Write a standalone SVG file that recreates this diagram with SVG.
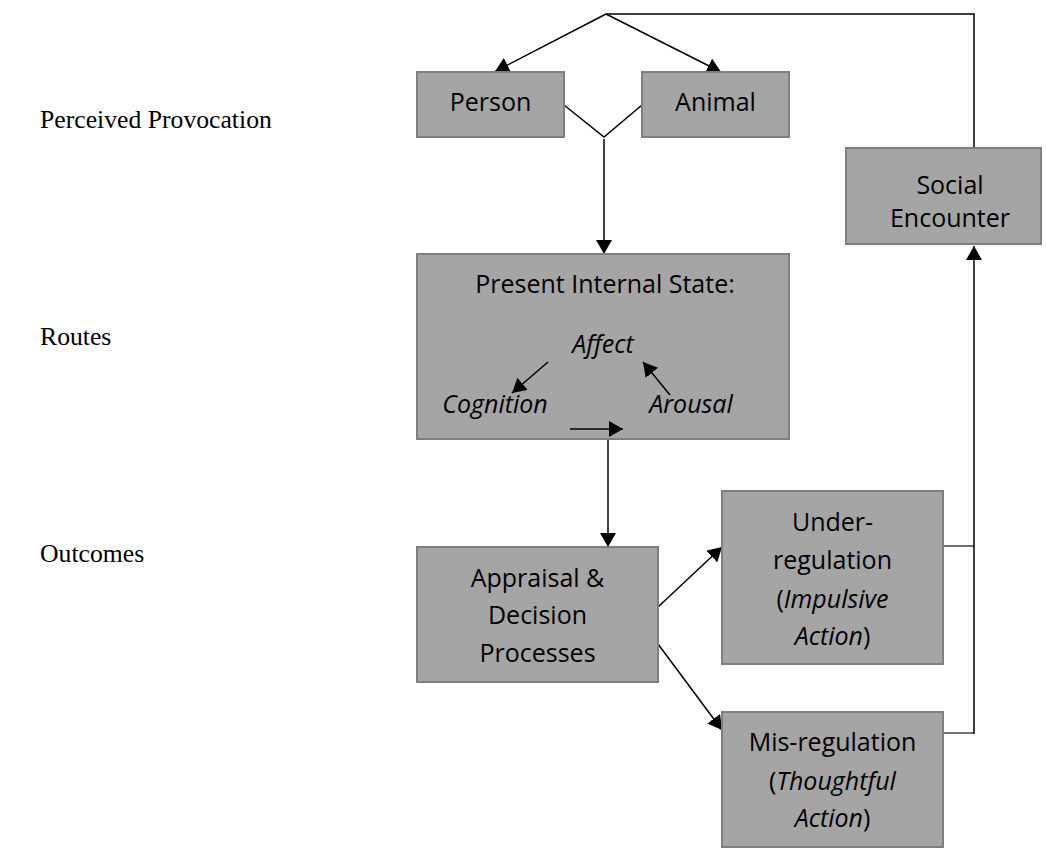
<svg xmlns="http://www.w3.org/2000/svg" width="1046" height="848" viewBox="0 0 1046 848">
<style>
.box{fill:#a5a5a5;stroke:#7f7f7f;stroke-width:2}
.t{font-family:"Open Sans","Noto Sans",sans-serif;font-size:25px;fill:#000;text-anchor:middle}
.i{font-style:italic}
.lbl{font-family:"Liberation Serif","Times New Roman",serif;font-size:25.7px;fill:#000}
.c{fill:none;stroke:#000;stroke-width:1.5}
.cg{fill:none;stroke:#404040;stroke-width:1.5}
</style>
<defs>
<marker id="ah" viewBox="0 0 14 16" refX="14" refY="8" markerWidth="14" markerHeight="16" markerUnits="userSpaceOnUse" orient="auto">
<path d="M0,0 L14,8 L0,16 z" fill="#000"/>
</marker>
</defs>
<g id="labels">
<text class="lbl" x="40" y="128">Perceived Provocation</text>
<text class="lbl" x="40" y="345">Routes</text>
<text class="lbl" x="40" y="562">Outcomes</text>
</g>
<g id="connectors">
<line class="c" x1="606" y1="14" x2="495" y2="71.5" marker-end="url(#ah)"/>
<line class="c" x1="606" y1="14" x2="721" y2="72" marker-end="url(#ah)"/>
<polyline class="c" points="564,105 604,137 642,105"/>
<line class="c" x1="604" y1="139" x2="604" y2="254" marker-end="url(#ah)"/>
<polyline class="c" points="974,148 974,14 606,14"/>
<line class="c" x1="608" y1="439" x2="608" y2="547" marker-end="url(#ah)"/>
<line class="c" x1="658" y1="607" x2="722" y2="547" marker-end="url(#ah)"/>
<line class="c" x1="658" y1="644" x2="722" y2="730" marker-end="url(#ah)"/>
<line class="cg" x1="943" y1="546" x2="974" y2="546"/>
<line class="cg" x1="943" y1="733" x2="974" y2="733"/>
<line class="c" x1="974" y1="734" x2="974" y2="246" marker-end="url(#ah)"/>
</g>
<g id="person">
<rect class="box" x="417" y="72" width="147" height="65"/>
<text class="t" x="490.5" y="111">Person</text>
</g>
<g id="animal">
<rect class="box" x="642" y="72" width="147" height="65"/>
<text class="t" x="715.5" y="111">Animal</text>
</g>
<g id="social-encounter">
<rect class="box" x="846" y="148" width="195" height="96"/>
<text class="t" x="950" y="194">Social</text>
<text class="t" x="950" y="227">Encounter</text>
</g>
<g id="present-internal-state">
<rect class="box" x="417" y="254" width="372" height="185"/>
<text class="t" x="605" y="293">Present Internal State:</text>
<text class="t i" x="603" y="353">Affect</text>
<text class="t i" x="495" y="413">Cognition</text>
<text class="t i" x="691" y="413">Arousal</text>
<line class="c" x1="548" y1="362" x2="512" y2="393" marker-end="url(#ah)"/>
<line class="c" x1="670" y1="395" x2="643" y2="362" marker-end="url(#ah)"/>
<line class="c" x1="570" y1="429" x2="623" y2="429" marker-end="url(#ah)"/>
</g>
<g id="appraisal">
<rect class="box" x="417" y="547" width="241" height="135"/>
<text class="t" x="537.5" y="587">Appraisal &amp;</text>
<text class="t" x="537.5" y="624">Decision</text>
<text class="t" x="537.5" y="662">Processes</text>
</g>
<g id="under-regulation">
<rect class="box" x="722" y="491" width="221" height="173"/>
<text class="t" x="832.5" y="531">Under-</text>
<text class="t" x="832.5" y="569">regulation</text>
<text class="t" x="832.5" y="608">(<tspan class="i">Impulsive</tspan></text>
<text class="t" x="832.5" y="645"><tspan class="i">Action</tspan>)</text>
</g>
<g id="mis-regulation">
<rect class="box" x="722" y="712" width="221" height="135"/>
<text class="t" x="832.5" y="751">Mis-regulation</text>
<text class="t" x="832.5" y="790">(<tspan class="i">Thoughtful</tspan></text>
<text class="t" x="832.5" y="827"><tspan class="i">Action</tspan>)</text>
</g>
</svg>
